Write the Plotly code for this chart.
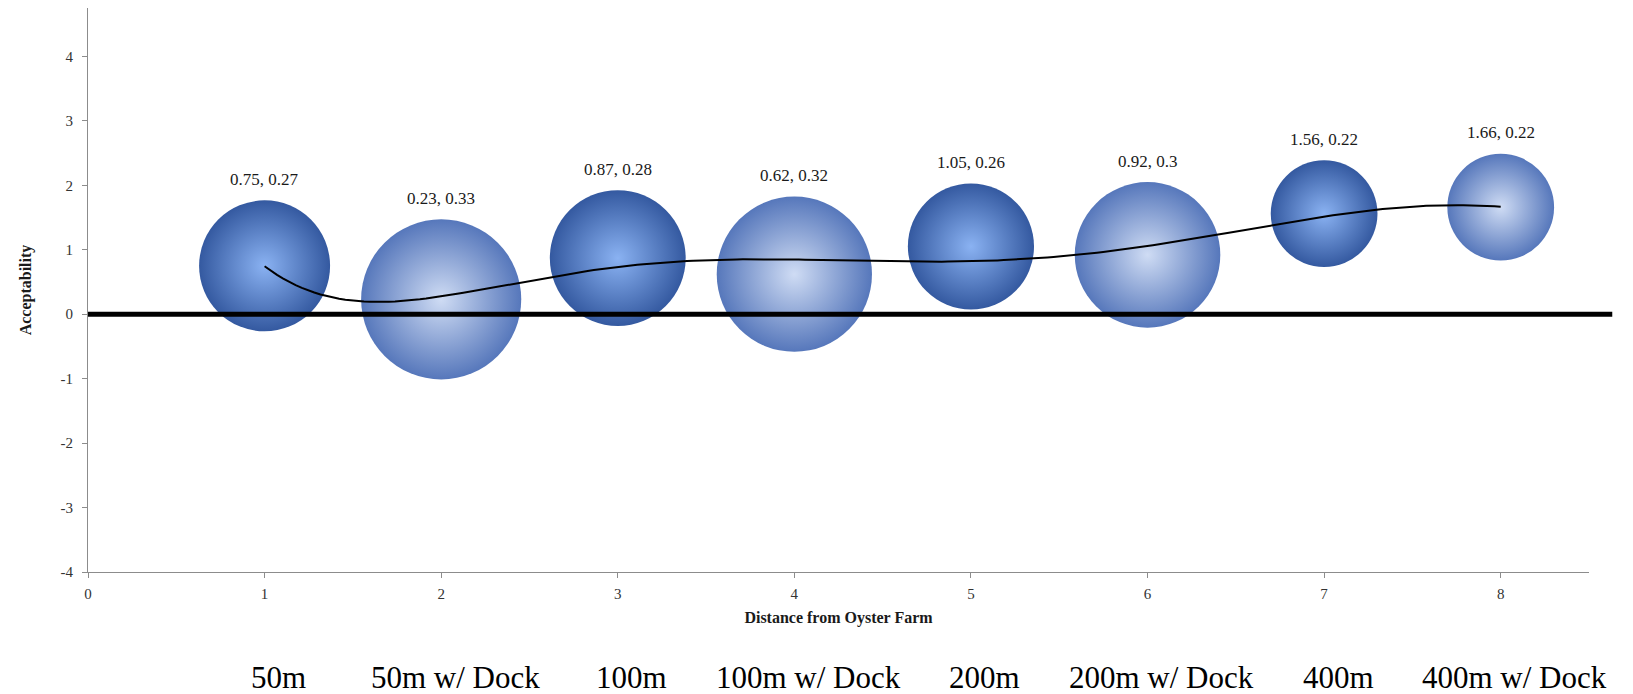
import numpy as np
import plotly.graph_objects as go

x_pos = [1, 2, 3, 4, 5, 6, 7, 8]
acceptability = [0.75, 0.23, 0.87, 0.62, 1.05, 0.92, 1.56, 1.66]
bubble_size = [0.27, 0.33, 0.28, 0.32, 0.26, 0.30, 0.22, 0.22]
has_dock = [False, True, False, True, False, True, False, True]
categories = ["50m", "50m w/ Dock", "100m", "100m w/ Dock", "200m",
              "200m w/ Dock", "400m", "400m w/ Dock"]
x_ticks = [0, 1, 2, 3, 4, 5, 6, 7, 8]
y_ticks = [-4, -3, -2, -1, 0, 1, 2, 3, 4]
y_tick_text = ["-4", "-3", "-2", "-1", "0", "1", "2", "3", "4"]
TREND_DEGREE = 6

PX_PER_SIZE = 131 / 0.27
SIZEREF = 1 / PX_PER_SIZE
FONT = "Liberation Serif, Times New Roman, serif"

fig = go.Figure()

solid_idx = [i for i, d in enumerate(has_dock) if not d]
dock_idx = [i for i, d in enumerate(has_dock) if d]

fig.add_trace(go.Scatter(
    x=[x_pos[i] for i in solid_idx], y=[acceptability[i] for i in solid_idx],
    mode="markers",
    marker=dict(size=[bubble_size[i] for i in solid_idx], sizemode="diameter", sizeref=SIZEREF,
                color="#3459a0", gradient=dict(type="radial", color="#8ab2f2"),
                line=dict(width=0), opacity=1),
    showlegend=False, hoverinfo="skip"))
fig.add_trace(go.Scatter(
    x=[x_pos[i] for i in dock_idx], y=[acceptability[i] for i in dock_idx],
    mode="markers",
    marker=dict(size=[bubble_size[i] for i in dock_idx], sizemode="diameter", sizeref=SIZEREF,
                color="#5677bb", gradient=dict(type="radial", color="#cfdcf4"),
                line=dict(width=0), opacity=1),
    showlegend=False, hoverinfo="skip"))

# polynomial trendline fitted to the data
xs = np.linspace(min(x_pos), max(x_pos), 200)
coef = np.polyfit(x_pos, acceptability, TREND_DEGREE)
fig.add_trace(go.Scatter(x=xs, y=np.polyval(coef, xs), mode="lines",
                         line=dict(color="black", width=2), showlegend=False,
                         hoverinfo="skip"))

fig.add_shape(type="line", xref="paper", yref="y", x0=0, x1=1.0155, y0=0, y1=0,
              line=dict(color="black", width=5))

for xi, yi, si in zip(x_pos, acceptability, bubble_size):
    fig.add_annotation(x=xi, y=yi, text=f"{yi:g}, {si:g}", showarrow=False,
                       yshift=si * PX_PER_SIZE / 2 + 21, yanchor="middle",
                       font=dict(family=FONT, size=17, color="#1a1a1a"))

for xi, cat in zip(x_pos, categories):
    fig.add_annotation(x=xi, y=-0.187, yref="paper", text=cat, showarrow=False,
                       xshift=14, yanchor="middle",
                       font=dict(family=FONT, size=31, color="black"))

fig.update_xaxes(range=[0, 8.5], tickvals=x_ticks, showgrid=False, zeroline=False,
                 showline=True, linecolor="#8c8c8c", linewidth=1,
                 ticks="outside", ticklen=5, tickcolor="#8c8c8c",
                 tickfont=dict(family=FONT, size=15, color="#333333"), ticklabelstandoff=3,
                 title=dict(text="<b>Distance from Oyster Farm</b>", standoff=10,
                            font=dict(family=FONT, size=16, color="#1a1a1a")))
fig.update_yaxes(range=[-4, 4.75], tickvals=y_ticks, ticktext=y_tick_text,
                 showgrid=False, zeroline=False,
                 showline=True, linecolor="#8c8c8c", linewidth=1,
                 ticks="outside", ticklen=5, tickcolor="#8c8c8c",
                 tickfont=dict(family=FONT, size=15, color="#333333"), ticklabelstandoff=6,
                 title=dict(text="<b>Acceptability</b>", standoff=24,
                            font=dict(family=FONT, size=16, color="#1a1a1a")))

fig.update_layout(width=1633, height=694, margin=dict(l=88, r=44, t=8, b=122),
                  plot_bgcolor="white", paper_bgcolor="white")

fig.write_html("out.html", config={"displayModeBar": False},
               post_script="document.body.style.margin='0';document.body.style.overflow='hidden';")
